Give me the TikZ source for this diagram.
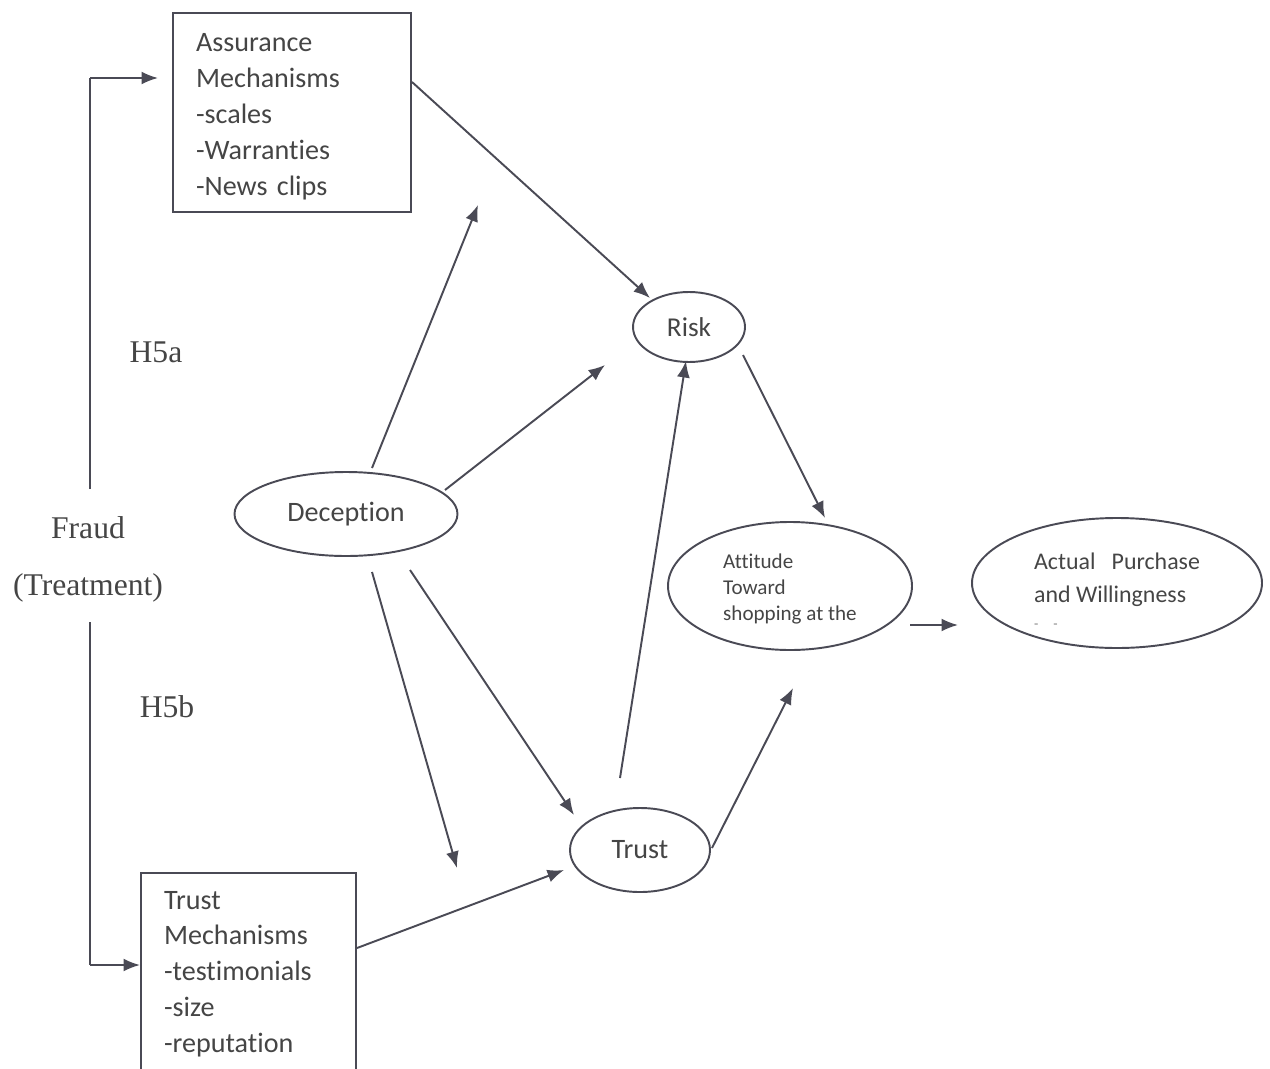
\documentclass[tikz,border=0pt]{standalone}
\usepackage{fontspec}
\setmainfont[Ligatures=NoCommon]{Carlito}
\newfontfamily\serifrm{Liberation Serif}
\usetikzlibrary{shapes.geometric,arrows.meta}
\definecolor{linec}{HTML}{4A4A55}
\definecolor{textc}{HTML}{454545}
\begin{document}
\begin{tikzpicture}[x=0.02cm,y=-0.02cm,
  boxnode/.style={draw=linec,line width=1.2pt,rectangle,anchor=north west,inner xsep=0.46cm,inner ysep=0pt,align=left,text=textc,font=\fontsize{16}{20.4}\selectfont},
  ovalnode/.style={draw=linec,line width=1.1pt,ellipse,inner sep=0pt,text=textc},
  conn/.style={draw=linec,line width=1.1pt,-{Latex[length=0.33cm,width=0.26cm]}},
  plainline/.style={draw=linec,line width=1.1pt},
  seriflabel/.style={text=textc,font=\serifrm\fontsize{18}{32.5}\selectfont,align=center}]
\useasboundingbox (0,0) rectangle (1270,1068);
% boxes
\node[boxnode,text width=3.84cm,minimum width=238*0.02cm,minimum height=199*0.02cm] (assur) at (172,12)
  {\rule{0pt}{0.53cm}Assurance\\Mechanisms\\-scales\\-Warranties\\-News clips};
\node[boxnode,text width=3.38cm,minimum width=215*0.02cm,minimum height=202*0.02cm] (trmech) at (140,872)
  {Trust\\Mechanisms\\-testimonials\\-size\\-reputation};
% ellipses
\node[ovalnode,minimum width=112*0.02cm,minimum height=70*0.02cm,font=\fontsize{15.5}{18}\selectfont] (risk) at (689,327) {Risk};
\node[ovalnode,minimum width=223*0.02cm,minimum height=84*0.02cm,font=\fontsize{16}{19}\selectfont] (decep) at (346,514) {Deception};
\node[ovalnode,minimum width=244*0.02cm,minimum height=128*0.02cm,align=left,font=\fontsize{12}{14.7}\selectfont] (att) at (790,586)
  {\rule{0pt}{0.42cm}Attitude\\Toward\\shopping at the\hspace{0.2cm}};
\node[ovalnode,minimum width=290*0.02cm,minimum height=130*0.02cm,align=left,font=\fontsize{13.6}{18.7}\selectfont] (act) at (1117,583)
  {\rule{0pt}{0.65cm}Actual\ \ \ Purchase\\and Willingness\\[-4pt]{\fontsize{8}{8}\selectfont\color{gray}-\hspace{0.3cm}-}};
\node[ovalnode,minimum width=140*0.02cm,minimum height=84*0.02cm,font=\fontsize{16}{19}\selectfont] (trust) at (640,850) {Trust};
% labels
\node[seriflabel] (fraud) at (88,559) {Fraud\\(Treatment)};
\node[seriflabel] (h5a) at (156,352) {H5a};
\node[seriflabel] (h5b) at (167,707) {H5b};
% bracket
\coordinate (bt) at (90,78);
\coordinate (bb) at (90,965);
\coordinate (bgap1) at (90,489);
\coordinate (bgap2) at (90,622);
\coordinate (bta) at (158,78);
\coordinate (bba) at (140,965);
\draw[plainline] (bgap1) -- (bt);
\draw[plainline] (bgap2) -- (bb);
\draw[conn] (bt) -- (bta);
\draw[conn] (bb) -- (bba);
% free ends and start points
\coordinate (a1s) at (412,82);   \coordinate (a1e) at (650,298);
\coordinate (a2s) at (372,468);  \coordinate (a2e) at (478,205);
\coordinate (a3s) at (445,490);  \coordinate (a3e) at (605,365);
\coordinate (a4s) at (372,572);  \coordinate (a4e) at (457,868);
\coordinate (a5s) at (410,570);  \coordinate (a5e) at (574,815);
\coordinate (a6s) at (357,948);  \coordinate (a6e) at (564,870);
\coordinate (a7s) at (620,778);  \coordinate (a7e) at (686,361);
\coordinate (a8s) at (712,848);  \coordinate (a8e) at (793,688);
\coordinate (a9s) at (743,355);  \coordinate (a9e) at (825,518);
\coordinate (a10s) at (910,625); \coordinate (a10e) at (958,625);
\draw[conn] (a1s) -- (a1e);
\draw[conn] (a2s) -- (a2e);
\draw[conn] (a3s) -- (a3e);
\draw[conn] (a4s) -- (a4e);
\draw[conn] (a5s) -- (a5e);
\draw[conn] (a6s) -- (a6e);
\draw[conn] (a7s) -- (a7e);
\draw[conn] (a8s) -- (a8e);
\draw[conn] (a9s) -- (a9e);
\draw[conn] (a10s) -- (a10e);
\end{tikzpicture}
\end{document}
